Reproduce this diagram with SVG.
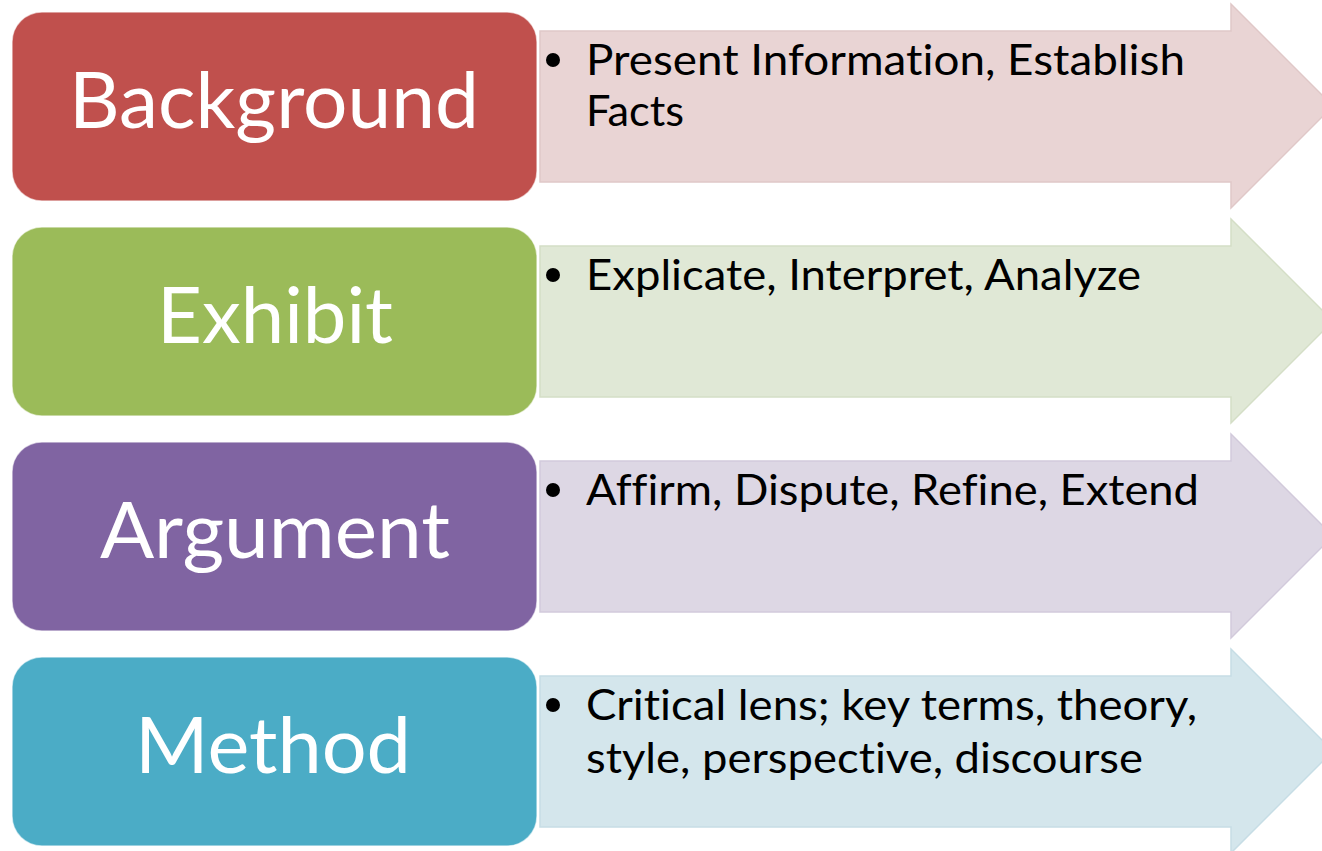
<svg xmlns="http://www.w3.org/2000/svg" width="1322" height="851" viewBox="0 0 1322 851">
<style>
.box{stroke:#ffffff;stroke-opacity:0.6;stroke-width:1.5}
.title{font-family:Lato,"Open Sans","Liberation Sans",sans-serif;font-size:78px;fill:#ffffff;text-anchor:middle;font-variant-ligatures:none;font-feature-settings:"liga" 0,"clig" 0,"dlig" 0,"calt" 0}
.item{font-family:Lato,"Open Sans","Liberation Sans",sans-serif;font-size:42px;fill:#000000;font-variant-ligatures:none;font-feature-settings:"liga" 0,"clig" 0,"dlig" 0,"calt" 0}
.arrow{stroke-width:1.5}
</style>
<defs>
<path id="arr" d="M540,31 H1231 V4 L1333,106 L1231,208 V182 H540 Z"/>
</defs>
<rect width="1322" height="851" fill="#ffffff"/>
<g id="connectors">
<use href="#arr" class="arrow" fill="#E9D4D4" stroke="#E0C8C8"/>
<use href="#arr" class="arrow" transform="translate(0,215)" fill="#E0E8D6" stroke="#D4DEC6"/>
<use href="#arr" class="arrow" transform="translate(0,430)" fill="#DDD7E4" stroke="#D2CADB"/>
<use href="#arr" class="arrow" transform="translate(0,645)" fill="#D4E6EC" stroke="#C6DDE5"/>
</g>
<g id="node-background">
<rect class="box" x="12" y="12" width="525" height="189" rx="30" fill="#C0504D"/>
<text class="title" x="274" y="128" textLength="410" lengthAdjust="spacingAndGlyphs">Background</text>
<circle cx="553" cy="60" r="7"/>
<text class="item" x="586" y="75" textLength="599" lengthAdjust="spacingAndGlyphs">Present Information, Establish</text>
<text class="item" x="586" y="126" textLength="98" lengthAdjust="spacingAndGlyphs">Facts</text>
</g>
<g id="node-exhibit">
<rect class="box" x="12" y="227" width="525" height="189" rx="30" fill="#9BBB59"/>
<text class="title" x="275" y="343" textLength="236" lengthAdjust="spacingAndGlyphs">Exhibit</text>
<circle cx="553" cy="275" r="7"/>
<text class="item" x="586" y="290" textLength="555" lengthAdjust="spacingAndGlyphs">Explicate, Interpret, Analyze</text>
</g>
<g id="node-argument">
<rect class="box" x="12" y="442" width="525" height="189" rx="30" fill="#8064A2"/>
<text class="title" x="275" y="558" textLength="350" lengthAdjust="spacingAndGlyphs">Argument</text>
<circle cx="553" cy="490" r="7"/>
<text class="item" x="586" y="505" textLength="613" lengthAdjust="spacingAndGlyphs">Affirm, Dispute, Refine, Extend</text>
</g>
<g id="node-method">
<rect class="box" x="12" y="657" width="525" height="189" rx="30" fill="#4BACC6"/>
<text class="title" x="273" y="773" textLength="276" lengthAdjust="spacingAndGlyphs">Method</text>
<circle cx="553" cy="705" r="7"/>
<text class="item" x="586" y="720" textLength="611" lengthAdjust="spacingAndGlyphs">Critical lens; key terms, theory,</text>
<text class="item" x="586" y="773" textLength="557" lengthAdjust="spacingAndGlyphs">style, perspective, discourse</text>
</g>
</svg>
